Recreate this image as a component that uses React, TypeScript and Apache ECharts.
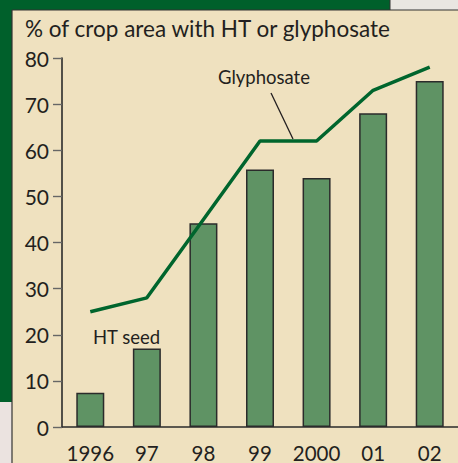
import React, { useEffect, useRef } from "react";
import * as echarts from "echarts";

const categories = ["1996", "97", "98", "99", "2000", "01", "02"];
const htSeed = [7.4, 17, 44.2, 55.8, 54, 68, 75];
const glyphosate = [25, 28, 45, 62, 62, 73, 78];
const yTicks = { min: 0, max: 80, interval: 10 };

const FONT = "Lato, 'Open Sans', sans-serif";
const DARK_GREEN = "#00602b";
const PANEL = "#efe1bf";
const INK = "#231f20";

export default function App() {
  const ref = useRef<HTMLDivElement>(null);
  useEffect(() => {
    document.body.style.margin = "0";
    const chart = echarts.init(ref.current!, null, { renderer: "svg" });
    chart.setOption({
      animation: false,
      backgroundColor: PANEL,
      graphic: [
        { type: "rect", z: -10, shape: { x: 0, y: 0, width: 390, height: 10 }, style: { fill: DARK_GREEN } },
        { type: "rect", z: -10, shape: { x: 390, y: 0, width: 68, height: 10 }, style: { fill: "#e9e6e2" } },
        { type: "rect", z: -10, shape: { x: 0, y: 0, width: 12, height: 402 }, style: { fill: DARK_GREEN } },
        { type: "rect", z: -10, shape: { x: 0, y: 402, width: 12, height: 61 }, style: { fill: "#ebe3e0" } },
        { type: "line", shape: { x1: 12, y1: 10, x2: 458, y2: 10 }, style: { stroke: "#333", lineWidth: 1.2 } },
        { type: "line", shape: { x1: 390, y1: 0, x2: 390, y2: 10 }, style: { stroke: "#333", lineWidth: 1 } },
        { type: "line", shape: { x1: 12, y1: 10, x2: 12, y2: 463 }, style: { stroke: "#333", lineWidth: 1.2 } },
        {
          type: "text", left: 25, top: 17,
          style: { text: "% of crop area with HT or glyphosate", fill: INK, font: `22.5px ${FONT}` },
        },
        {
          type: "text", left: 218, top: 67,
          style: { text: "Glyphosate", fill: INK, font: `18.5px ${FONT}` },
        },
        { type: "line", z: 100, shape: { x1: 271, y1: 93, x2: 293, y2: 139 }, style: { stroke: INK, lineWidth: 1.3 } },
        {
          type: "text", left: 93, top: 327,
          style: { text: "HT seed", fill: INK, font: `18.5px ${FONT}` },
        },
      ],
      grid: { left: 62, right: -5, top: 58, bottom: 34, containLabel: false },
      xAxis: {
        type: "category",
        data: categories,
        axisLine: { lineStyle: { color: "#2b2b2b", width: 1.6 } },
        axisTick: { alignWithLabel: true, length: 8, lineStyle: { color: "#666", width: 1.2 } },
        axisLabel: { color: INK, fontFamily: FONT, fontSize: 20.5, margin: 15, interval: 0 },
      },
      yAxis: {
        type: "value",
        min: yTicks.min,
        max: yTicks.max,
        interval: yTicks.interval,
        splitLine: { show: false },
        axisLine: { show: true, lineStyle: { color: "#2b2b2b", width: 1.6 } },
        axisTick: { show: true, length: 9, lineStyle: { color: "#666", width: 1.4 } },
        axisLabel: { color: INK, fontFamily: FONT, fontSize: 21, margin: 13 },
      },
      series: [
        {
          type: "bar",
          data: htSeed,
          barWidth: 28,
          itemStyle: { color: "#5f9364", borderColor: "#2b2b2b", borderWidth: 1.5 },
        },
        {
          type: "line",
          data: glyphosate,
          z: 5,
          symbol: "none",
          lineStyle: { color: "#00652d", width: 3.5 },
        },
      ],
    });
    return () => chart.dispose();
  }, []);
  return <div ref={ref} style={{ width: 458, height: 463 }} />;
}
